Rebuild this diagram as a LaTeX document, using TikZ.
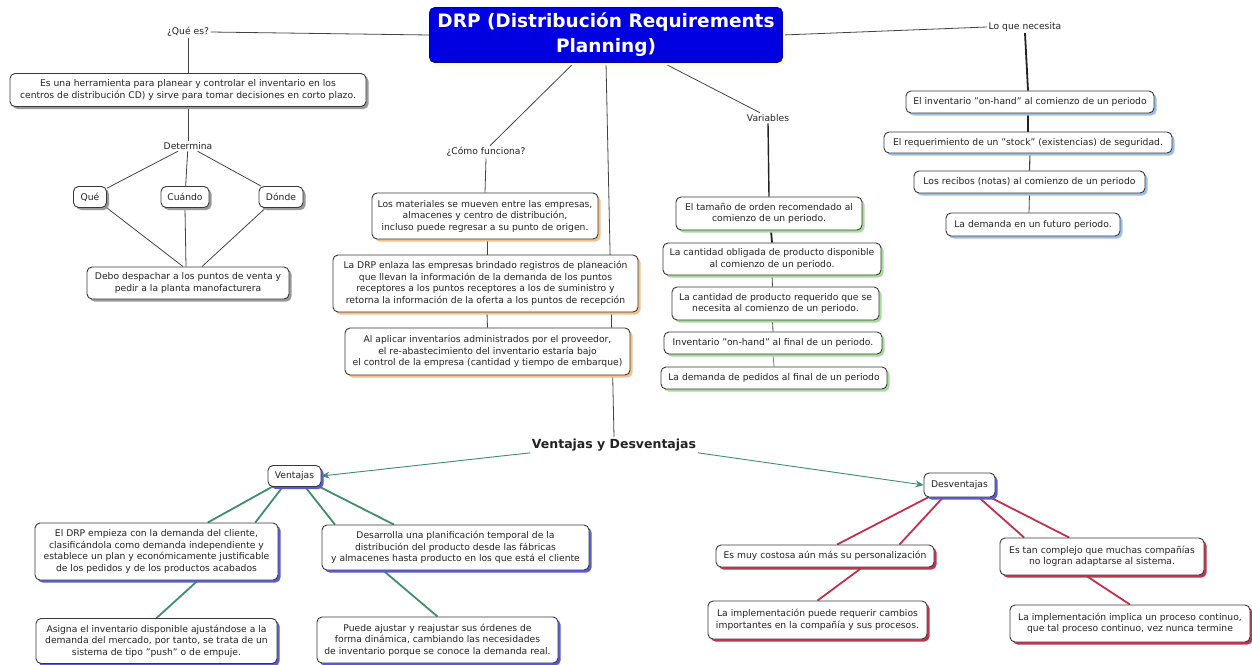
\documentclass[tikz,border=0pt]{standalone}
\usepackage{fontspec}
\setmainfont{DejaVu Sans}
\usetikzlibrary{shadows,calc,arrows.meta}
\pgfdeclarelayer{background}
\pgfsetlayers{background,main}
\definecolor{ink}{HTML}{222222}
\definecolor{titleblue}{HTML}{0000E0}
\definecolor{vgreen}{HTML}{3E8E6E}
\definecolor{dred}{HTML}{C4304A}
\definecolor{shgray}{HTML}{9A9A9A}
\definecolor{shorange}{HTML}{F5C08A}
\definecolor{shgreen}{HTML}{A8DC9C}
\definecolor{shblue}{HTML}{9DC0EA}
\definecolor{shviolet}{HTML}{5B5BD6}
\definecolor{shred}{HTML}{C8304E}
\begin{document}
\begin{tikzpicture}[x=1pt,y=-1pt,
  font=\fontsize{9.2}{11.5}\selectfont, text=ink,
  box/.style={draw=ink!90, line width=0.9pt, fill=white, rounded corners=5pt,
    align=center, inner xsep=2pt, inner ysep=1pt},
  sh/.style={drop shadow={shadow xshift=2.5pt, shadow yshift=-2.5pt, opacity=1, fill=#1}},
  lbl/.style={inner sep=1.5pt},
  cn/.style={draw=ink!85, line width=0.8pt},
  cnb/.style={draw=ink, line width=1.8pt},
  gline/.style={draw=vgreen, line width=1.8pt},
  rline/.style={draw=dred, line width=1.8pt},
  garrow/.style={draw=vgreen, line width=0.9pt, -{Stealth[length=8pt,width=7pt]}},
]
\useasboundingbox (0,0) rectangle (1252,664);

% ---- central title ----
\node[draw=titleblue!70!black, line width=0.6pt, fill=titleblue, rounded corners=5pt,
  text=white, align=center, font=\fontsize{18.5}{25}\selectfont\bfseries,
  minimum width=353, minimum height=55, sh=yellow!25] (title) at (606,35)
  {DRP (Distribución Requirements\\Planning)};

% ---- ¿Qué es? branch ----
\node[lbl] (que) at (188,32) {¿Qué es?};
\node[box, sh=shgray, minimum width=356, minimum height=33] (b1) at (188,90)
  {Es una herramienta para planear y controlar el inventario en los\\centros de distribución CD) y sirve para tomar decisiones en corto plazo.};
\node[lbl] (det) at (188,146) {Determina};
\node[box, sh=shgray, minimum width=33, minimum height=21] (qe) at (90,197) {Qué};
\node[box, sh=shgray, minimum width=48, minimum height=21] (cu) at (185,197) {Cuándo};
\node[box, sh=shgray, minimum width=44, minimum height=21] (dn) at (281,197) {Dónde};
\node[box, sh=shgray, minimum width=202, minimum height=32] (debo) at (188,283)
  {Debo despachar a los puntos de venta y\\pedir a la planta manofacturera};

% ---- ¿Cómo funciona? branch ----
\node[lbl] (como) at (486,152) {¿Cómo funciona?};
\node[box, sh=shorange, minimum width=226, minimum height=46] (c1) at (485,216)
  {Los materiales se mueven entre las empresas,\\almacenes y centro de distribución,\\incluso puede regresar a su punto de origen.};
\node[box, sh=shorange, minimum width=305, minimum height=57] (c2) at (485.5,283.5)
  {La DRP enlaza las empresas brindado registros de planeación\\que llevan la información de la demanda de los puntos\\receptores a los puntos receptores a los de suministro y\\retorna la información de la oferta a los puntos de recepción};
\node[box, sh=shorange, minimum width=285, minimum height=47] (c3) at (487.5,351.5)
  {Al aplicar inventarios administrados por el proveedor,\\el re-abastecimiento del inventario estaría bajo\\el control de la empresa (cantidad y tiempo de embarque)};

% ---- Variables branch ----
\node[lbl] (var) at (768,118) {Variables};
\node[box, sh=shgreen, minimum width=186, minimum height=33] (v1) at (769,213.5)
  {El tamaño de orden recomendado al\\comienzo de un periodo.};
\node[box, sh=shgreen, minimum width=218, minimum height=32] (v2) at (772,259)
  {La cantidad obligada de producto disponible\\al comienzo de un periodo.};
\node[box, sh=shgreen, minimum width=207, minimum height=33] (v3) at (775.5,303.5)
  {La cantidad de producto requerido que se\\necesita al comienzo de un periodo.};
\node[box, sh=shgreen, minimum width=218, minimum height=22] (v4) at (773,343)
  {Inventario "on-hand" al final de un periodo.};
\node[box, sh=shgreen, minimum width=226, minimum height=22] (v5) at (774,378)
  {La demanda de pedidos al final de un periodo};

% ---- Lo que necesita branch ----
\node[lbl] (lqn) at (1025,27) {Lo que necesita};
\node[box, sh=shblue, minimum width=248, minimum height=22] (r1) at (1030,102)
  {El inventario "on-hand" al comienzo de un periodo};
\node[box, sh=shblue, minimum width=288, minimum height=21] (r2) at (1028,142.5)
  {El requerimiento de un "stock" (existencias) de seguridad.};
\node[box, sh=shblue, minimum width=231, minimum height=22] (r3) at (1029.5,182)
  {Los recibos (notas) al comienzo de un periodo};
\node[box, sh=shblue, minimum width=174, minimum height=23] (r4) at (1033,224.5)
  {La demanda en un futuro periodo.};

% ---- Ventajas y Desventajas ----
\node[lbl, font=\fontsize{12.5}{15}\selectfont\bfseries] (vd) at (614,445) {Ventajas y Desventajas};
\node[box, sh=shviolet, minimum width=53, minimum height=21] (vent) at (294.5,476) {Ventajas};
\node[box, sh=shviolet, minimum width=243, minimum height=57] (a1) at (156.5,551.5)
  {El DRP empieza con la demanda del cliente,\\clasificándola como demanda independiente y\\establece un plan y económicamente justificable\\de los pedidos y de los productos acabados};
\node[box, sh=shviolet, minimum width=241, minimum height=45] (a2) at (156.5,641)
  {Asigna el inventario disponible ajustándose a la\\demanda del mercado, por tanto, se trata de un\\sistema de tipo "push" o de empuje.};
\node[box, sh=shviolet, minimum width=267, minimum height=45] (a3) at (455.5,547.5)
  {Desarrolla una planificación temporal de la\\distribución del producto desde las fábricas\\y almacenes hasta producto en los que está el cliente};
\node[box, sh=shviolet, minimum width=241, minimum height=46] (a4) at (437.5,640)
  {Puede ajustar y reajustar sus órdenes de\\forma dinámica, cambiando las necesidades\\de inventario porque se conoce la demanda real.};

\node[box, sh=shviolet, minimum width=71, minimum height=24] (desv) at (959.5,485) {Desventajas};
\node[box, sh=shred, minimum width=218, minimum height=22] (d1) at (825,556)
  {Es muy costosa aún más su personalización};
\node[box, sh=shred, minimum width=219, minimum height=38] (d2) at (817.5,620)
  {La implementación puede requerir cambios\\importantes en la compañía y sus procesos.};
\node[box, sh=shred, minimum width=204, minimum height=37] (d3) at (1102,556.5)
  {Es tan complejo que muchas compañías\\no logran adaptarse al sistema.};
\node[box, sh=shred, minimum width=240, minimum height=37] (d4) at (1130,623.5)
  {La implementación implica un proceso continuo,\\que tal proceso continuo, vez nunca termine};

% ---- connectors, kept behind the boxes ----
\begin{pgfonlayer}{background}
  \draw[cn] (que.east) -- (title.west);
  \draw[cn] (que.south) -- (b1.north);
  \draw[cn] (b1.south) -- (det.north);
  \draw[cn] (det) -- (qe);
  \draw[cn] (det) -- (cu);
  \draw[cn] (det) -- (dn);
  \draw[cn] (qe.south east) -- ([xshift=-5pt]debo.north);
  \draw[cn] (cu.south) -- ([xshift=-2pt]debo.north);
  \draw[cn] ([xshift=7pt]dn.south west) -- ([xshift=14pt]debo.north);

  \draw[cn] ([xshift=-32pt]title.south) -- ([xshift=4pt]como.north);
  \draw[cn] (como.south) -- (c1.north);
  \draw[cn] ([xshift=2pt]c1.south) -- ([xshift=1.5pt]c2.north);
  \draw[cn] ([xshift=1.5pt]c2.south) -- (c3.north);
  \draw[cn] (title.south) -- (vd.north);

  \draw[cn] ([xshift=57pt]title.south) -- ([xshift=-8pt]var.north);
  \draw[cnb, line width=1.4pt] (var.south) -- (v1.north);
  \draw[cnb] ([xshift=2pt]v1.south) -- (v2.north);
  \draw[cn] (v2.south) -- ([xshift=-3pt]v3.north);
  \draw[cn] ([xshift=-3pt]v3.south) -- (v4.north);
  \draw[cn, draw=ink!60] (v4.south) -- (v5.north);

  \draw[cn] (title.east) -- (lqn.west);
  \draw[cnb] (lqn.south) -- ([xshift=-2pt]r1.north);
  \draw[cnb] ([xshift=-2pt]r1.south) -- (r2.north);
  \draw[cn, line width=1.1pt] ([xshift=2pt]r2.south) -- (r3.north);
  \draw[cn] (r3.south) -- ([xshift=-4pt]r4.north);

  \draw[garrow] (vd.south west) -- (vent.east);
  \draw[garrow] (vd.south east) -- (desv.west);

  \draw[gline] ($(vent.south west)!0.08!(vent.south east)$) -- ($(a1.north west)!0.71!(a1.north east)$);
  \draw[gline] ($(vent.south west)!0.28!(vent.south east)$) -- ($(a1.north west)!0.905!(a1.north east)$);
  \draw[gline] ($(vent.south west)!0.70!(vent.south east)$) -- ($(a3.north west)!0.05!(a3.north east)$);
  \draw[gline] ($(vent.south west)!0.97!(vent.south east)$) -- ($(a3.north west)!0.27!(a3.north east)$);
  \draw[gline] ($(a1.south west)!0.67!(a1.south east)$) -- (a2.north);
  \draw[gline] ($(a3.south west)!0.23!(a3.south east)$) -- (a4.north);

  \draw[rline] ($(desv.south west)!0.06!(desv.south east)$) -- ($(d1.north west)!0.555!(d1.north east)$);
  \draw[rline] ($(desv.south west)!0.27!(desv.south east)$) -- ($(d1.north west)!0.84!(d1.north east)$);
  \draw[rline] ($(desv.south west)!0.77!(desv.south east)$) -- ($(d3.north west)!0.12!(d3.north east)$);
  \draw[rline] ($(desv.south west)!0.93!(desv.south east)$) -- ($(d3.north west)!0.34!(d3.north east)$);
  \draw[rline] ($(d1.south west)!0.67!(d1.south east)$) -- (d2.north);
  \draw[rline] ($(d3.south west)!0.42!(d3.south east)$) -- (d4.north);
\end{pgfonlayer}
\end{tikzpicture}
\end{document}
